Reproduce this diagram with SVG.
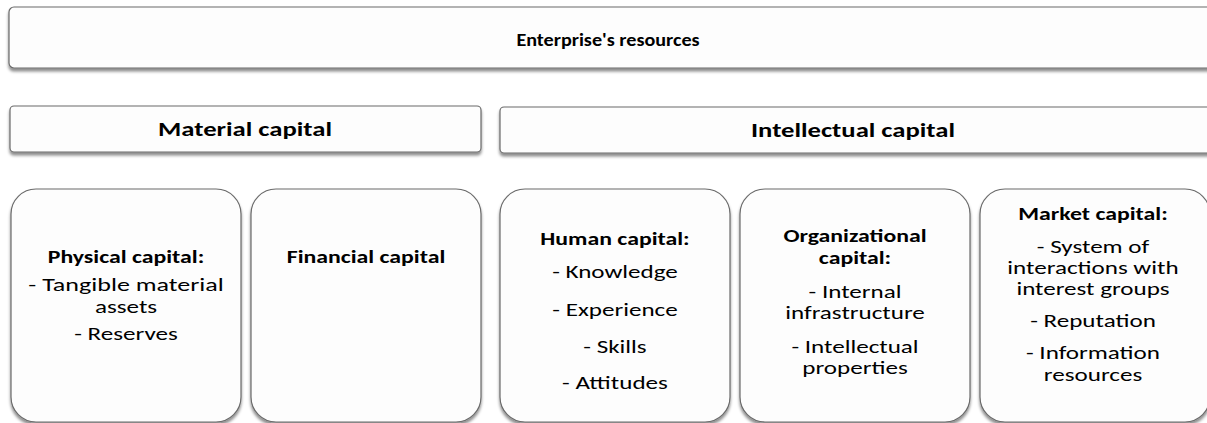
<svg xmlns="http://www.w3.org/2000/svg" width="1207" height="423" viewBox="0 0 1207 423">
  <defs>
    <filter id="shadow" x="-5%" y="-10%" width="110%" height="130%">
      <feDropShadow dx="0" dy="3" stdDeviation="1.8" flood-color="#000" flood-opacity="0.45"/>
    </filter>
  </defs>
  <style>
    rect { fill: #fdfdfd; stroke: #6a6a6a; stroke-width: 1.2; filter: url(#shadow); }
    text { font-family: Carlito, Lato, "Liberation Sans", sans-serif; fill: #000; text-anchor: middle; }
    .h1 { font-size: 18px; font-weight: bold; }
    .h2 { font-size: 20.5px; font-weight: bold; }
    .t { font-size: 18.3px; font-weight: bold; }
    .i { font-size: 19.3px; }
  </style>

  <rect width="1207" height="423" style="fill:#ffffff;stroke:none;filter:none"/>

  <!-- top level -->
  <g id="enterprise-resources">
    <rect x="9" y="7" width="1212" height="61" rx="5"/>
    <text class="h1" transform="translate(608 46) scale(1.12 1)">Enterprise's resources</text>
  </g>

  <!-- second level -->
  <g id="material-capital">
    <rect x="10" y="106" width="471" height="46" rx="4"/>
    <text class="h2" transform="translate(245 135.5) scale(1.3 1)">Material capital</text>
  </g>
  <g id="intellectual-capital">
    <rect x="500" y="107" width="720" height="46" rx="4"/>
    <text class="h2" transform="translate(853 136.5) scale(1.3 1)">Intellectual capital</text>
  </g>

  <!-- third level -->
  <g id="physical-capital">
    <rect x="11" y="189" width="230" height="233" rx="25"/>
    <text class="t" transform="translate(126 263) scale(1.3 1)">Physical capital:</text>
    <text class="i" transform="translate(126 291) scale(1.35 1)">- Tangible material</text>
    <text class="i" transform="translate(126 313) scale(1.3 1)">assets</text>
    <text class="i" transform="translate(126 340) scale(1.3 1)">- Reserves</text>
  </g>
  <g id="financial-capital">
    <rect x="251" y="189" width="230" height="233" rx="25"/>
    <text class="t" transform="translate(366 263) scale(1.3 1)">Financial capital</text>
  </g>
  <g id="human-capital">
    <rect x="500" y="189" width="230" height="233" rx="25"/>
    <text class="t" transform="translate(615 245) scale(1.3 1)">Human capital:</text>
    <text class="i" transform="translate(615 278) scale(1.3 1)">- Knowledge</text>
    <text class="i" transform="translate(615 316) scale(1.3 1)">- Experience</text>
    <text class="i" transform="translate(615 353) scale(1.3 1)">- Skills</text>
    <text class="i" transform="translate(615 389) scale(1.3 1)">- Attitudes</text>
  </g>
  <g id="organizational-capital">
    <rect x="740" y="189" width="230" height="233" rx="25"/>
    <text class="t" transform="translate(855 242) scale(1.3 1)">Organizational</text>
    <text class="t" transform="translate(855 264) scale(1.3 1)">capital:</text>
    <text class="i" transform="translate(855 298) scale(1.3 1)">- Internal</text>
    <text class="i" transform="translate(855 319) scale(1.3 1)">infrastructure</text>
    <text class="i" transform="translate(855 353) scale(1.3 1)">- Intellectual</text>
    <text class="i" transform="translate(855 374) scale(1.3 1)">properties</text>
  </g>
  <g id="market-capital">
    <rect x="980" y="189" width="230" height="233" rx="25"/>
    <text class="t" transform="translate(1093 220) scale(1.3 1)">Market capital:</text>
    <text class="i" transform="translate(1093 253) scale(1.3 1)">- System of</text>
    <text class="i" transform="translate(1093 274) scale(1.3 1)">interactions with</text>
    <text class="i" transform="translate(1093 295) scale(1.3 1)">interest groups</text>
    <text class="i" transform="translate(1093 327) scale(1.3 1)">- Reputation</text>
    <text class="i" transform="translate(1093 359) scale(1.3 1)">- Information</text>
    <text class="i" transform="translate(1093 381) scale(1.3 1)">resources</text>
  </g>

  <!-- no connectors are drawn between the levels -->
  <g id="connectors"/>
</svg>
